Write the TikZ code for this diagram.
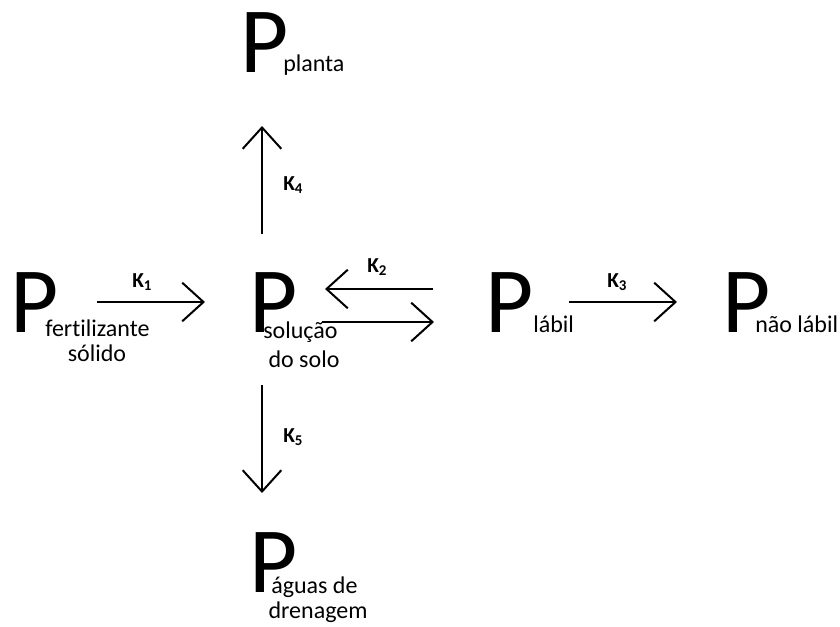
\documentclass[tikz,border=0pt]{standalone}
\usepackage{fontspec}
\setmainfont{Carlito}[Ligatures=NoCommon]
\usetikzlibrary{arrows.meta}
\begin{document}
\begin{tikzpicture}[x=0.75pt,y=-0.75pt,
  bigp/.style={inner sep=0pt, anchor=base west, font=\fontsize{70}{70}\selectfont},
  subw/.style={inner sep=0pt, anchor=base west, font=\fontsize{18}{21}\selectfont},
  subc/.style={inner sep=0pt, anchor=base, font=\fontsize{18}{21}\selectfont},
  klab/.style={inner sep=0pt, anchor=base west, font=\fontsize{16}{18}\selectfont\bfseries},
  arr/.style={line width=1.5pt, -{Straight Barb[length=16pt,width=29pt,line width=1.5pt]}}]
\useasboundingbox (0,0) rectangle (840,626);
% P fertilizante solido
\node[bigp] (pf) at (10,332) {P};
\node[subw] (pf1) at (45,336) {fertilizante};
\node[subc] (pf2) at (97,361) {sólido};
% P solucao do solo
\node[bigp] (ps) at (249,332) {P};
\node[subw] (ps1) at (263,338) {solução};
\node[subc] (ps2) at (304,367) {do solo};
% P labil
\node[bigp] (pl) at (485,332) {P};
\node[subw] (pl1) at (533,332) {lábil};
% P nao labil
\node[bigp] (pn) at (722,332) {P};
\node[subw] (pn1) at (755,332) {não lábil};
% P planta
\node[bigp] (pp) at (240,72) {P};
\node[subw] (pp1) at (283,71) {planta};
% P aguas de drenagem
\node[bigp] (pa) at (249,592) {P};
\node[subw] (pa1) at (271,593) {águas de};
\node[subc] (pa2) at (318,618) {drenagem};
% arrow endpoints
\coordinate (a1s) at (97,302);  \coordinate (a1e) at (205,302);
\coordinate (a2s) at (433,289); \coordinate (a2e) at (325,289);
\coordinate (a3s) at (322,322); \coordinate (a3e) at (434,322);
\coordinate (a4s) at (569,302); \coordinate (a4e) at (677,302);
\coordinate (a5s) at (262,234); \coordinate (a5e) at (262,126);
\coordinate (a6s) at (262,385); \coordinate (a6e) at (262,493);
\draw[arr] (a1s) -- (a1e);
\draw[arr] (a2s) -- (a2e);
\draw[arr] (a3s) -- (a3e);
\draw[arr] (a4s) -- (a4e);
\draw[arr] (a5s) -- (a5e);
\draw[arr] (a6s) -- (a6e);
% labels
\node[klab] (k1) at (132,287) {K\textsubscript{1}};
\node[klab] (k2) at (367,272) {K\textsubscript{2}};
\node[klab] (k3) at (607,287) {K\textsubscript{3}};
\node[klab] (k4) at (283,190) {K\textsubscript{4}};
\node[klab] (k5) at (283,442) {K\textsubscript{5}};
\end{tikzpicture}
\end{document}
